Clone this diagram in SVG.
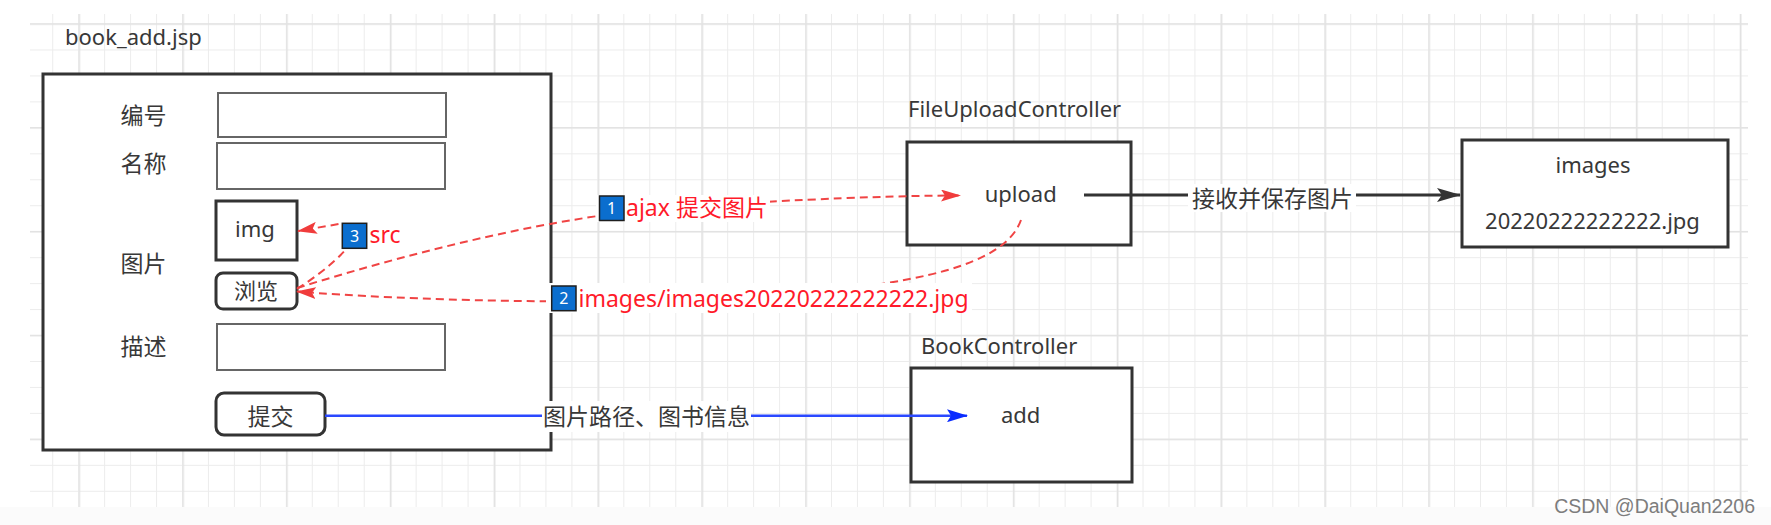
<svg xmlns="http://www.w3.org/2000/svg" width="1771" height="525" viewBox="0 0 1771 525">
<defs>
<style>
.t{font-family:'Noto Sans','Noto Sans CJK SC',sans-serif;font-size:22px;fill:#383838}
.cjk{font-size:23px}
.mid{text-anchor:middle}
.red{fill:#ff1a2a;font-size:23px}
.box{fill:#fff;stroke:#333;stroke-width:3}
.input{fill:#fff;stroke:#666;stroke-width:2}
.btn{fill:#fff;stroke:#333;stroke-width:3}
.dash{fill:none;stroke:#f04444;stroke-width:2;stroke-dasharray:8 5}
.lbg{fill:#fff}
.badge{fill:#0b6ece;stroke:#1e1e1e;stroke-width:1.5}
.bt{font-family:'Noto Sans',sans-serif;font-size:16px;fill:#fff;text-anchor:middle}
</style>
<pattern id="gMinor" width="25.96" height="25.96" patternUnits="userSpaceOnUse" x="0.28" y="23.5">
<path d="M0.5,0 V25.96 M0,0.5 H25.96" stroke="#ececec" stroke-width="1" fill="none"/>
</pattern>
<pattern id="gMajor" width="103.84" height="103.84" patternUnits="userSpaceOnUse" x="78.55" y="23.25">
<path d="M0.75,0 V103.84 M0,0.75 H103.84" stroke="#e2e2e2" stroke-width="1.5" fill="none"/>
</pattern>
<marker id="arRed" viewBox="0 0 20 12" markerWidth="20" markerHeight="12" refX="19" refY="6" orient="auto" markerUnits="userSpaceOnUse">
<path d="M0,0 L20,6 L0,12 L4,6 Z" fill="#f03c3c"/>
</marker>
<marker id="arBlack" viewBox="0 0 24 14" markerWidth="24" markerHeight="14" refX="23" refY="7" orient="auto" markerUnits="userSpaceOnUse">
<path d="M0,0 L24,7 L0,14 L5,7 Z" fill="#333"/>
</marker>
<marker id="arBlue" viewBox="0 0 21 13" markerWidth="21" markerHeight="13" refX="20" refY="6.5" orient="auto" markerUnits="userSpaceOnUse">
<path d="M0,0 L21,6.5 L0,13 L4,6.5 Z" fill="#0a2cff"/>
</marker>
</defs>

<rect x="0" y="0" width="1771" height="525" fill="#ffffff"/>
<rect x="0" y="507" width="1771" height="18" fill="#fbfbfb"/>
<g id="grid">
<rect x="30" y="14" width="1718" height="493" fill="url(#gMinor)"/>
<rect x="30" y="14" width="1718" height="493" fill="url(#gMajor)"/>
</g>

<g id="page-book-add">
<text class="t" x="65" y="45">book_add.jsp</text>
<rect class="box" x="43" y="74" width="508" height="376"/>
</g>

<g id="field-bianhao">
<text class="t cjk" x="120.5" y="124">编号</text>
<rect class="input" x="218" y="93" width="228" height="44"/>
</g>
<g id="field-mingcheng">
<text class="t cjk" x="120.5" y="172">名称</text>
<rect class="input" x="217" y="143" width="228" height="46"/>
</g>
<g id="field-tupian">
<text class="t cjk" x="120.5" y="272">图片</text>
</g>
<g id="node-img">
<rect class="box" x="216" y="201" width="81" height="59"/>
<text class="t mid" x="255" y="237">img</text>
</g>
<g id="node-browse">
<rect class="btn" x="216" y="273" width="81" height="36" rx="7"/>
<text class="t mid" x="256" y="299">浏览</text>
</g>
<g id="field-miaoshu">
<text class="t cjk" x="120.5" y="355">描述</text>
<rect class="input" x="217" y="324" width="228" height="46"/>
</g>
<g id="node-submit">
<rect class="btn" x="216" y="393" width="109" height="42" rx="8"/>
<text class="t cjk mid" x="270.5" y="424.5">提交</text>
</g>

<g id="node-upload">
<text class="t" x="908" y="117">FileUploadController</text>
<rect class="box" x="907" y="142" width="224" height="103"/>
<text class="t mid" x="1020.7" y="201.5">upload</text>
</g>

<g id="node-images">
<rect class="box" x="1462" y="140" width="266" height="107"/>
<text class="t mid" x="1593" y="172.5">images</text>
<text class="t mid" x="1592.5" y="229">20220222222222.jpg</text>
</g>

<g id="node-add">
<text class="t" x="921" y="353.5">BookController</text>
<rect class="box" x="911" y="368" width="221" height="114"/>
<text class="t mid" x="1020.7" y="422.7">add</text>
</g>

<g id="connectors">
<path class="dash" d="M297,288 C420,250 560,215 680,207 S900,195.5 960,195.5" marker-end="url(#arRed)"/>
<path class="dash" d="M1021,220 C1005,265 920,285 760,297 C600,306 400,300 297,291.5" marker-end="url(#arRed)"/>
<path class="dash" d="M297,289 C330,268 375,230 345,223 L298,231" marker-end="url(#arRed)"/>
<path d="M1084,195 L1460,195" stroke="#333" stroke-width="3" fill="none" marker-end="url(#arBlack)"/>
<path d="M325,415.7 L967,415.7" stroke="#2a48ff" stroke-width="2.5" fill="none" marker-end="url(#arBlue)"/>

<g id="label-1">
<rect class="lbg" x="596" y="195" width="174" height="27"/>
<rect class="badge" x="599.5" y="196" width="24.5" height="24.5"/>
<text class="bt" x="611.7" y="214">1</text>
<text class="t red" x="626" y="215.5">ajax 提交图片</text>
</g>
<g id="label-2">
<rect class="lbg" x="546" y="283" width="426" height="30"/>
<rect class="badge" x="551.7" y="286" width="24.3" height="24.7"/>
<text class="bt" x="563.8" y="304">2</text>
<text class="t red" x="578.5" y="306.5">images/images20220222222222.jpg</text>
</g>
<g id="label-3">
<rect class="lbg" x="340" y="221" width="62" height="30"/>
<rect class="badge" x="342.3" y="223.3" width="24.4" height="25"/>
<text class="bt" x="354.5" y="241.5">3</text>
<text class="t red" x="369.5" y="243.3">src</text>
</g>
<g id="label-save">
<rect class="lbg" x="1188" y="184" width="168" height="28"/>
<text class="t cjk mid" x="1272.5" y="207">接收并保存图片</text>
</g>
<g id="label-info">
<rect class="lbg" x="542" y="401" width="209" height="31"/>
<text class="t cjk mid" x="646.6" y="425.4">图片路径、图书信息</text>
</g>
</g>

<text x="1755" y="513" text-anchor="end" style="font-family:'Liberation Sans',Arial,sans-serif;font-size:19.5px;fill:#7d7d7d">CSDN @DaiQuan2206</text>
</svg>
